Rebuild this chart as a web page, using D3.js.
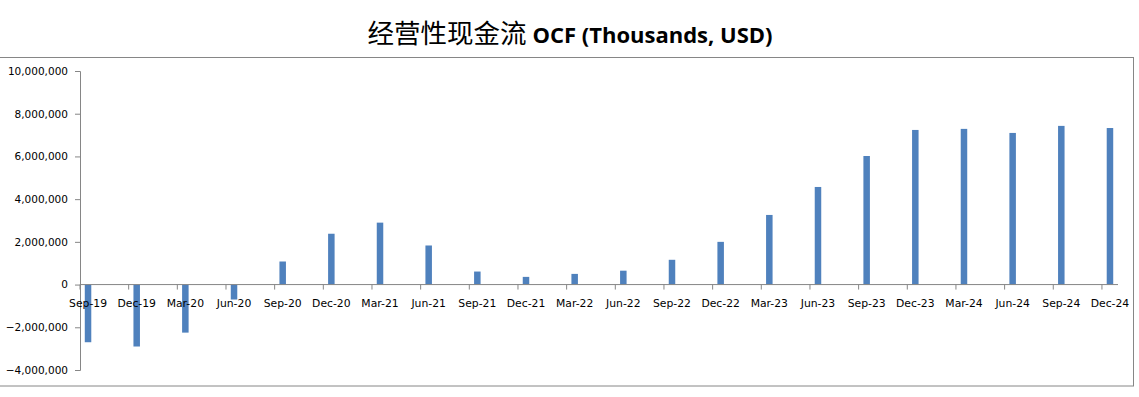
<!DOCTYPE html>
<html>
<head>
<meta charset="utf-8">
<script src="https://cdn.jsdelivr.net/npm/d3@7"></script>
<style>
  body { margin: 0; background: #fff; }
  svg { display: block; }
</style>
</head>
<body>
<svg id="chart" width="1139" height="397"></svg>
<script>
// quarters shown on the category axis
const quarters = ["Sep-19","Dec-19","Mar-20","Jun-20","Sep-20","Dec-20","Mar-21","Jun-21",
  "Sep-21","Dec-21","Mar-22","Jun-22","Sep-22","Dec-22","Mar-23","Jun-23",
  "Sep-23","Dec-23","Mar-24","Jun-24","Sep-24","Dec-24"];

// operating cash flow, thousands USD
const ocfValues = [-2700000, -2900000, -2250000, -700000, 1080000, 2380000, 2900000, 1830000,
  610000, 360000, 500000, 650000, 1160000, 2000000, 3260000, 4570000,
  6020000, 7240000, 7290000, 7100000, 7430000, 7330000];

const yTicks = [-4000000, -2000000, 0, 2000000, 4000000, 6000000, 8000000, 10000000];

const titleCn = "经营性现金流";
const titleEn = "OCF (Thousands, USD)";

const svg = d3.select("#chart");
const margin = { left: 80, right: 1118, top: 71, bottom: 370 };
const axisColor = "#868686";
const barColor = "#4F81BD";

// outer frame of the plot region
svg.append("rect")
  .attr("x", -1).attr("y", 57.5)
  .attr("width", 1134.5).attr("height", 328.5)
  .attr("fill", "none")
  .attr("stroke", axisColor)
  .attr("stroke-width", 1);

// title
const title = svg.append("text")
  .attr("x", 570).attr("y", 43)
  .attr("text-anchor", "middle")
  .attr("fill", "#000");
title.append("tspan")
  .attr("font-family", "'Noto Sans CJK SC', sans-serif")
  .attr("font-size", 26.5)
  .text(titleCn + " ");
title.append("tspan")
  .attr("font-family", "'Open Sans', sans-serif")
  .attr("font-weight", "bold")
  .attr("font-size", 22)
  .text(titleEn);

// scales
const x = d3.scalePoint()
  .domain(quarters)
  .range([margin.left, margin.right])
  .padding(0.165);

const y = d3.scaleLinear()
  .domain([-4000000, 10000000])
  .range([margin.bottom, margin.top]);

const tickOffset = x.step() * 0.165;

// y axis
const gY = svg.append("g")
  .attr("transform", `translate(${margin.left},0)`)
  .call(d3.axisLeft(y).tickValues(yTicks).tickFormat(d3.format(",")).tickSize(5).tickPadding(7));
gY.select(".domain").attr("stroke", axisColor);
gY.selectAll(".tick line").attr("stroke", axisColor);
gY.selectAll(".tick text")
  .attr("font-family", "'DejaVu Sans', sans-serif")
  .attr("font-size", 10.5)
  .attr("fill", "#000");

// bars
const barW = 6.5;
svg.append("g").selectAll("rect")
  .data(quarters.map((q, i) => ({ q, v: ocfValues[i] })))
  .join("rect")
  .attr("x", d => x(d.q) - barW / 2)
  .attr("width", barW)
  .attr("y", d => y(Math.max(0, d.v)))
  .attr("height", d => Math.abs(y(d.v) - y(0)))
  .attr("fill", barColor);

// x axis at zero
const gX = svg.append("g");
gX.append("line")
  .attr("x1", margin.left).attr("x2", margin.right)
  .attr("y1", y(0)).attr("y2", y(0))
  .attr("stroke", axisColor);
gX.selectAll("line.tick")
  .data(quarters)
  .join("line")
  .attr("class", "tick")
  .attr("x1", d => x(d) - tickOffset).attr("x2", d => x(d) - tickOffset)
  .attr("y1", y(0)).attr("y2", y(0) + 5)
  .attr("stroke", axisColor);
gX.selectAll("text")
  .data(quarters)
  .join("text")
  .attr("x", d => x(d))
  .attr("y", y(0) + 22)
  .attr("text-anchor", "middle")
  .attr("font-family", "'DejaVu Sans', sans-serif")
  .attr("font-size", 10.8)
  .attr("fill", "#000")
  .text(d => d);
</script>
</body>
</html>
